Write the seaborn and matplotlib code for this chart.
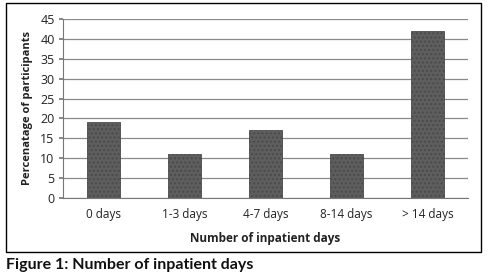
import matplotlib
matplotlib.use("Agg")
import matplotlib.pyplot as plt
import seaborn as sns
import pandas as pd
from matplotlib.patches import Rectangle

categories = ["0 days", "1-3 days", "4-7 days", "8-14 days", "> 14 days"]
values = [19, 11, 17, 11, 42]
yticks = [0, 5, 10, 15, 20, 25, 30, 35, 40, 45]

sns.set_theme(style="white")
plt.rcParams['font.family'] = ['Open Sans', 'DejaVu Sans']
plt.rcParams['hatch.color'] = '#7a7a7a'

df = pd.DataFrame({"cat": categories, "val": values})

fig = plt.figure(figsize=(4.88, 2.76), dpi=100)
ax = fig.add_axes([0.129, 0.283, 0.83, 0.648])
sns.barplot(data=df, x="cat", y="val", ax=ax, color="#5e5e5e", width=0.4,
            saturation=1, edgecolor="#4a4a4a", linewidth=0.6, hatch="....")
for p in ax.patches:
    p.set_zorder(3)

ax.set_ylim(0, 45)
ax.set_xlim(-0.5, 4.5)
ax.set_yticks(yticks)
ax.yaxis.grid(True, color="#8a8a8a", linewidth=0.9, zorder=0)
ax.set_axisbelow(True)
for s in ["top", "right"]:
    ax.spines[s].set_visible(False)
ax.spines["left"].set_color("#777777")
ax.spines["bottom"].set_color("#777777")
ax.spines["left"].set_linewidth(0.8)
ax.spines["bottom"].set_linewidth(0.8)
ax.set_xticks([-0.5, 0.5, 1.5, 2.5, 3.5, 4.5], minor=True)
ax.tick_params(axis="x", which="major", length=0, labelsize=8.5, pad=7, colors="#222222")
ax.tick_params(axis="x", which="minor", length=3, color="#777777", direction="out")
ax.tick_params(axis="y", which="major", length=3, color="#777777", labelsize=9, pad=3, left=True)
ax.tick_params(axis="y", labelcolor="#222222")
ax.set_xlabel("Number of inpatient days", fontsize=8.5, fontweight="bold", labelpad=8, color="#222222")
ax.set_ylabel("Percenatage of participants", fontsize=8, fontweight="bold", labelpad=5, color="#222222")

fig.patches.append(Rectangle((0.0123, 0.087), 0.9734, 0.902, transform=fig.transFigure,
                             fill=False, edgecolor="black", linewidth=1.0))
fig.text(0.0123, 0.04, "Figure 1: Number of inpatient days", fontsize=11.5, fontweight="bold",
         color="#111111", va="center", ha="left", family=["Lato", "DejaVu Sans"])

fig.savefig("out.png", dpi=100)
